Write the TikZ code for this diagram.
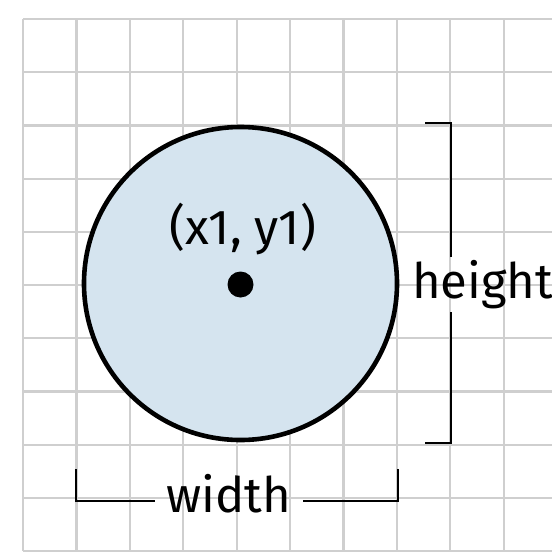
\documentclass[tikz,border=0pt]{standalone}
\usepackage{fontspec}
\setmainfont{Fira Sans}
\definecolor{gridgray}{HTML}{CFCFCF}
\definecolor{circfill}{HTML}{D5E4EF}
\begin{document}
\begin{tikzpicture}[x=1pt,y=-1pt,
  gridline/.style={draw=gridgray,line width=2.2pt},
  bracketline/.style={draw=black,line width=2.6pt},
  lbl/.style={inner sep=0pt,font=\fontsize{49}{53}\selectfont}]
\useasboundingbox (0,0) rectangle (552,558);
\begin{scope}
\clip (0,0) rectangle (552,558);
\foreach \i in {0,...,10}{
  \draw[gridline] ({23+53.4*\i},19) -- ({23+53.4*\i},551);
  \draw[gridline] (23,{19+53.2*\i}) -- (580,{19+53.2*\i});
}
\end{scope}
\node[circle,draw=black,fill=circfill,line width=4.6pt,minimum size=313pt,inner sep=0pt] (c) at (240.5,283.5) {};
\node[circle,fill=black,minimum size=26pt,inner sep=0pt] (dot) at (240.5,284.5) {};
\node[lbl,anchor=base] (xy) at (243,244) {(x1, y1)};
\node[lbl,anchor=base west] (h) at (412,298) {height};
\node[lbl,anchor=base] (w) at (229,512) {width};
\coordinate (ht) at (425,123);
\coordinate (hb) at (425,443);
\coordinate (wl) at (76,469);
\coordinate (wr) at (398,469);
\draw[bracketline] (ht) -- (451,123) -- (451,257);
\draw[bracketline] (451,312) -- (451,443) -- (hb);
\draw[bracketline] (wl) -- (76,501) -- (155,501);
\draw[bracketline] (303,501) -- (398,501) -- (wr);
\end{tikzpicture}
\end{document}
